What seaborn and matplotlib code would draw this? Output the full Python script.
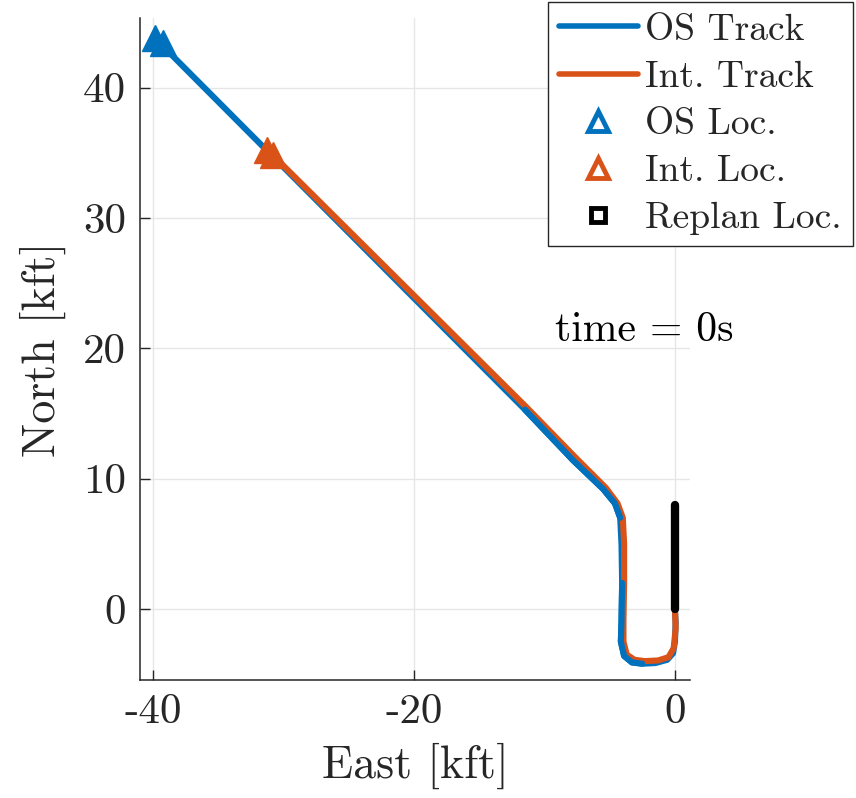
import numpy as np
import pandas as pd
import matplotlib
matplotlib.use("Agg")
import matplotlib.pyplot as plt
from matplotlib.lines import Line2D
import seaborn as sns

# ---- data (kft) ----
os_east = [-39.85, -11.5, -7.8, -5.5, -4.6, -4.2, -4.1, -4.05, -4.1, -4.15, -3.9, -3.3, -2.5, -1.5, -0.6, -0.15, 0.0, 0.05, 0.0]
os_north = [43.8, 15.3, 11.4, 9.2, 8.1, 7.0, 5.0, 2.0, -1.0, -2.5, -3.6, -4.1, -4.2, -4.15, -3.9, -3.4, -2.5, -1.0, -0.2]
int_east = [-31.2, -11.4, -7.6, -5.3, -4.4, -4.0, -3.9, -3.9, -3.95, -3.95, -3.7, -3.1, -2.3, -1.3, -0.5, -0.1, 0.05, 0.0]
int_north = [35.2, 15.5, 11.6, 9.3, 8.1, 7.0, 5.0, 2.0, -1.0, -2.5, -3.5, -3.9, -4.0, -3.95, -3.7, -3.0, -1.5, 0.0]
os_loc_east = [-39.85, -39.2]
os_loc_north = [43.8, 43.4]
int_loc_east = [-31.3, -30.8]
int_loc_north = [35.2, 34.8]
replan_east = [0.0, 0.0]
replan_north = [0.0, 8.0]
x_ticks = [-40, -20, 0]
x_tick_labels = ['-40', '-20', '0']
y_ticks = [0, 10, 20, 30, 40]
y_tick_labels = ['0', '10', '20', '30', '40']
annotation = 'time = 0s'
# index ranges of the OS track that lie on top of the intruder track
os_top_ranges = [(1, 5), (7, 12)]

BLUE = '#0072BD'
ORANGE = '#D95319'

sns.set_theme(style='white')
plt.rcParams['font.family'] = ['cmr10', 'DejaVu Serif']
plt.rcParams['mathtext.fontset'] = 'cm'
plt.rcParams['axes.unicode_minus'] = False

fig = plt.figure(figsize=(8.56, 7.98), dpi=100)
ax = fig.add_axes([140/856, 1-680/798, 550/856, 662/798])

os_df = pd.DataFrame({'east': os_east, 'north': os_north})
int_df = pd.DataFrame({'east': int_east, 'north': int_north})

sns.lineplot(data=os_df, x='east', y='north', sort=False, estimator=None, ax=ax,
             color=BLUE, linewidth=4.4, zorder=3)
sns.lineplot(data=int_df, x='east', y='north', sort=False, estimator=None, ax=ax,
             color=ORANGE, linewidth=4.4, zorder=4)
for a, b in os_top_ranges:
    sns.lineplot(data=os_df.iloc[a:b + 1], x='east', y='north', sort=False, estimator=None,
                 ax=ax, color=BLUE, linewidth=4.4, zorder=4.5)
ax.plot(replan_east, replan_north, color='black', linewidth=6, solid_capstyle='round', zorder=5)
ax.plot(os_loc_east, os_loc_north, linestyle='none', marker='^', markersize=19,
        color=BLUE, markeredgewidth=1, zorder=6)
ax.plot(int_loc_east, int_loc_north, linestyle='none', marker='^', markersize=19,
        color=ORANGE, markeredgewidth=1, zorder=6)

ax.set_xlim(-41.0, 1.15)
ax.set_ylim(-5.45, 45.35)
ax.set_xticks(x_ticks)
ax.set_xticklabels(x_tick_labels)
ax.set_yticks(y_ticks)
ax.set_yticklabels(y_tick_labels)
ax.grid(True, color='#e6e6e6', linewidth=1.0, zorder=0)
ax.set_axisbelow(True)
for s in ['top', 'right']:
    ax.spines[s].set_visible(False)
for s in ['left', 'bottom']:
    ax.spines[s].set_color('#262626')
    ax.spines[s].set_linewidth(1.1)
ax.tick_params(axis='both', direction='in', length=7, width=1.0, color='#262626',
               labelsize=31, labelcolor='#262626', bottom=True, left=True)
ax.tick_params(axis='x', pad=10)
ax.tick_params(axis='y', pad=10)
ax.set_xlabel('East [kft]', fontsize=33, color='#262626', labelpad=8)
ax.set_ylabel('North [kft]', fontsize=33, color='#262626', labelpad=12)

ax.text(-9.2, 21.4, annotation, fontsize=30, color='black', va='center', ha='left')

handles = [
    Line2D([], [], color=BLUE, linewidth=4),
    Line2D([], [], color=ORANGE, linewidth=4),
    Line2D([], [], linestyle='none', marker='^', markersize=14, markerfacecolor='white',
           markeredgecolor=BLUE, markeredgewidth=3.5),
    Line2D([], [], linestyle='none', marker='^', markersize=14, markerfacecolor='white',
           markeredgecolor=ORANGE, markeredgewidth=3.5),
    Line2D([], [], linestyle='none', marker='s', markersize=10, markerfacecolor='white',
           markeredgecolor='black', markeredgewidth=3.5),
]
labels = ['OS Track', 'Int. Track', 'OS Loc.', 'Int. Loc.', 'Replan Loc.']
leg = fig.legend(handles, labels, loc='upper right', bbox_to_anchor=(853/856, 1-2/798),
                 bbox_transform=fig.transFigure, fontsize=27, frameon=True, fancybox=False,
                 edgecolor='#262626', framealpha=1, borderpad=0.3, labelspacing=0.37,
                 handlelength=2.1, handletextpad=0.2, borderaxespad=0)
leg.get_frame().set_linewidth(1.0)

fig.savefig('out.png', dpi=100)
